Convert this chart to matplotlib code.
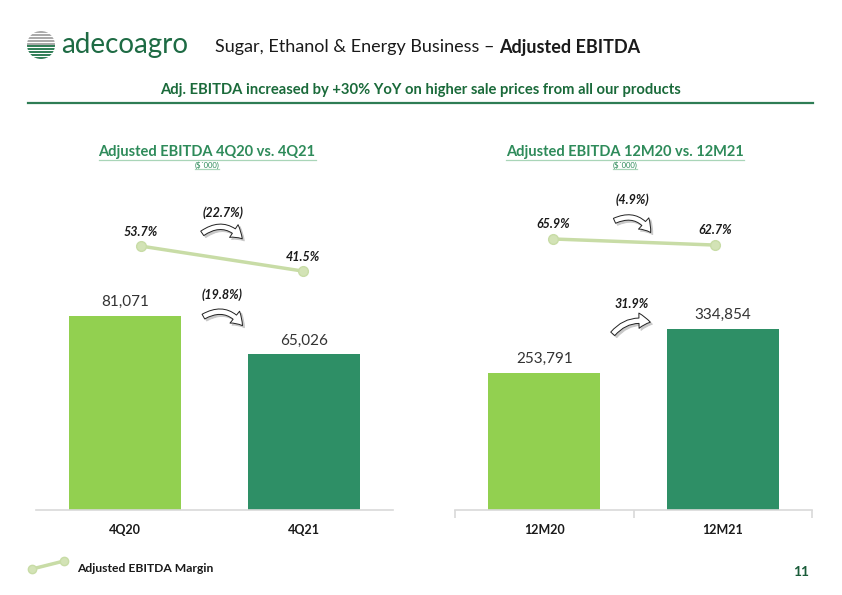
import matplotlib
matplotlib.use('Agg')
import matplotlib.pyplot as plt
from matplotlib.patches import FancyArrowPatch, Circle
from matplotlib.lines import Line2D

W, H = 842, 595

quarters = ['4Q20', '4Q21']
ebitda_quarter = [81071, 65026]
margin_quarter = [53.7, 41.5]
chg_margin_quarter = '(22.7%)'
chg_ebitda_quarter = '(19.8%)'

years = ['12M20', '12M21']
ebitda_year = [253791, 334854]
margin_year = [65.9, 62.7]
chg_margin_year = '(4.9%)'
chg_ebitda_year = '31.9%'

LIGHT = '#92d050'
DARK = '#2e8f66'
LINE = '#c8dca6'
GREEN_TXT = '#2e8b5a'
FONT = 'Lato'

plt.rcParams['font.family'] = [FONT, 'DejaVu Sans']

fig = plt.figure(figsize=(W / 100, H / 100), dpi=100)


def fx(x):
    return x / W


def fy(y):
    return 1 - y / H


def box(x0, y0, x1, y1):
    # pixel box (top-left origin) -> figure fraction rect
    return [fx(x0), fy(y1), fx(x1) - fx(x0), fy(y0) - fy(y1)]


def bar_panel(rect, cats, vals, ymax, ticks):
    ax = fig.add_axes(rect)
    ax.bar(range(len(cats)), vals, width=0.63, color=[LIGHT, DARK])
    ax.set_xlim(-0.5, len(cats) - 0.5)
    ax.set_ylim(0, ymax)
    for s in ['top', 'right', 'left']:
        ax.spines[s].set_visible(False)
    ax.spines['bottom'].set_color('#d9d9d9')
    ax.spines['bottom'].set_linewidth(1.2)
    ax.set_yticks([])
    ax.set_xticks(range(len(cats)))
    ax.set_xticklabels(cats, fontsize=9, fontweight='bold', color='#1a1a1a')
    ax.tick_params(axis='x', length=0, pad=10)
    if ticks:
        ax.set_xticks([-0.5, 0.5, 1.5], minor=True)
        ax.tick_params(axis='x', which='minor', length=6, color='#d9d9d9', width=1.2)
    for i, v in enumerate(vals):
        ax.annotate(f'{v:,}', (i, v), xytext=(0, 10), textcoords='offset points',
                    ha='center', va='center', fontsize=11, color='#333333')
    return ax


def margin_panel(rect, vals, ylo, yhi):
    ax = fig.add_axes(rect)
    ax.plot(range(len(vals)), vals, color=LINE, lw=2.5, marker='o', ms=7,
            mfc='#d3e3b6', mec=LINE)
    ax.set_xlim(-0.5, len(vals) - 0.5)
    ax.set_ylim(ylo, yhi)
    ax.axis('off')
    for i, v in enumerate(vals):
        ax.annotate(f'{v}%', (i, v), xytext=(0, 10.5), textcoords='offset points',
                    ha='center', va='center', fontsize=9, fontweight='bold',
                    fontstyle='italic', color='#1a1a1a')
    return ax


def curved_arrow(x0, y0, x1, y1, rad):
    for d, fc, ec in [(2, '#c8c8c8', '#c8c8c8'), (0, 'white', '#222222')]:
        a = FancyArrowPatch((fx(x0 + d), fy(y0 + d)), (fx(x1 + d), fy(y1 + d)),
                            transform=fig.transFigure,
                            connectionstyle=f'arc3,rad={rad}',
                            arrowstyle='simple,head_length=0.75,head_width=1.0,tail_width=0.35',
                            mutation_scale=11, fc=fc, ec=ec, lw=0.7)
        fig.patches.append(a)


def change_label(x, y, s):
    fig.text(fx(x), fy(y), s, ha='center', va='center', fontsize=9,
             fontweight='bold', fontstyle='italic', color='#1a1a1a')


# panels
bar_panel(box(36, 210, 393, 510), quarters, ebitda_quarter, 125368, False)
bar_panel(box(455, 210, 812, 510), years, ebitda_year, 555000, True)
margin_panel(box(60, 200, 384, 300), margin_quarter, 27.4, 76.2)
margin_panel(box(472, 200, 796, 300), margin_year, 33.8, 86.4)

curved_arrow(200, 235, 244, 241, -0.5)
curved_arrow(201, 318, 244, 328, -0.5)
curved_arrow(612, 222, 652, 235, -0.5)
curved_arrow(611, 336, 653, 323, -0.35)
change_label(223, 213, chg_margin_quarter)
change_label(222, 295, chg_ebitda_quarter)
change_label(632, 200, chg_margin_year)
change_label(632, 304, chg_ebitda_year)

# header logo: striped globe
lax = fig.add_axes(box(27, 31, 55, 59))
lax.set_xlim(-1, 1)
lax.set_ylim(-1, 1)
lax.axis('off')
globe = Circle((0, 0), 1, transform=lax.transData, fc='none', ec='none')
lax.add_patch(globe)
for k in range(10):
    yy = 0.9 - k * 0.2
    col = '#a8a8a8' if k < 5 else '#2e7d55'
    ln, = lax.plot([-1, 1], [yy, yy], color=col, lw=1.4)
    ln.set_clip_path(globe)

fig.text(fx(61), fy(45), 'adecoagro', fontsize=20, color='#1e6b44', va='center')
t1 = fig.text(fx(215), fy(47), 'Sugar, Ethanol & Energy Business \u2013 ', fontsize=13,
              color='#1a1a1a', va='center')
fig.text(fx(420), fy(90), 'Adj. EBITDA increased by +30% YoY on higher sale prices from all our products',
         ha='center', va='center', fontsize=10.6, fontweight='bold', color='#1a6a3a')
fig.lines.append(Line2D([fx(28), fx(813)], [fy(103), fy(103)], transform=fig.transFigure,
                        color='#2e7d55', lw=1.6))

titles = []
for cx, s in [(207, 'Adjusted EBITDA 4Q20 vs. 4Q21'), (625, 'Adjusted EBITDA 12M20 vs. 12M21')]:
    titles.append(fig.text(fx(cx), fy(152), s, ha='center', va='center', fontsize=10.5,
                           fontweight='bold', color=GREEN_TXT))
    titles.append(fig.text(fx(cx), fy(165), '($\u00b4000)', ha='center', va='center',
                           fontsize=5.5, color=GREEN_TXT))

# legend
fig.lines.append(Line2D([fx(32), fx(64)], [fy(569), fy(561)], transform=fig.transFigure,
                        color=LINE, lw=2.5, marker='o', ms=6, mfc='#d3e3b6', mec=LINE))
fig.text(fx(77), fy(568), 'Adjusted EBITDA Margin', fontsize=8.7, fontweight='bold',
         color='#1a1a1a', va='center')
fig.text(fx(801), fy(572), '11', fontsize=10, fontweight='bold', color='#1a5c3a',
         ha='center', va='center')

fig.canvas.draw()
r = fig.canvas.get_renderer()
bb = t1.get_window_extent(r)
fig.text(bb.x1 / W, fy(47), 'Adjusted EBITDA', fontsize=13, fontweight='bold',
         color='#1a1a1a', va='center')
for t in titles:
    b = t.get_window_extent(r)
    fig.lines.append(Line2D([b.x0 / W, b.x1 / W], [(b.y0 - 0.5) / H] * 2,
                            transform=fig.transFigure, color='#a9d5b8', lw=0.9))

fig.savefig('out.png', dpi=100)
